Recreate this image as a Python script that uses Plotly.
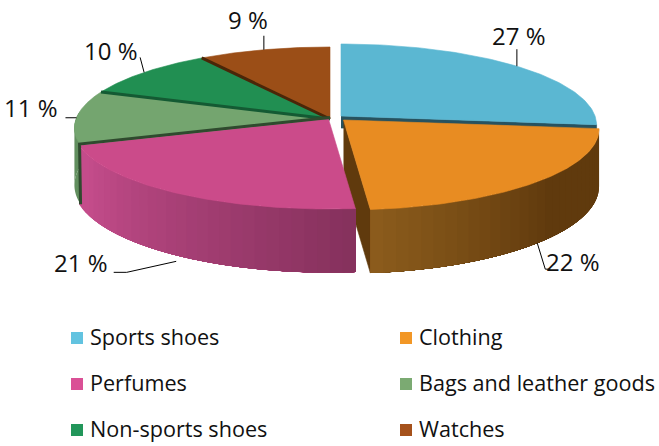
import numpy as np
import plotly.graph_objects as go

# ---- data ----
categories = ["Sports shoes", "Clothing", "Perfumes", "Bags and leather goods", "Non-sports shoes", "Watches"]
shares = [26.7, 21.8, 21.3, 10.9, 10.0, 9.3]
top_colors = ["#5BB7D2", "#E88C22", "#CB4B8A", "#74A56F", "#218F52", "#9B4E17"]
legend_colors = ["#62C3E0", "#F29726", "#DA5096", "#7BAA72", "#22965A", "#A5511B"]
edge_colors = ["#27525F", "#603A0D", "#8A335F", "#2F4A2E", "#145A33", "#4A2608"]

# ---- projection of the tilted disc (pixel plot area) ----
A, B, K, DEPTH = 254.0, 80.0, 0.111, 56.5
LEFT_APEX = (330.0, 119.0)
apexes = [(341.0, 116.0), (343.5, 120.0), (328.5, 119.0), LEFT_APEX, LEFT_APEX, LEFT_APEX]


def scale(t):
    return 1.0 / (1.0 + K * np.cos(t))


def rim(t, apex):
    s = scale(t)
    return apex[0] + A * np.sin(t) * s, apex[1] - B * np.cos(t) * s


def drop(t):
    return DEPTH * scale(t)


def mix(c1, c2, f):
    a = [int(c1[i:i + 2], 16) for i in (1, 3, 5)]
    b = [int(c2[i:i + 2], 16) for i in (1, 3, 5)]
    return "#%02x%02x%02x" % tuple(int(round(a[i] + (b[i] - a[i]) * f)) for i in range(3))


cum = np.cumsum([0] + shares)
total = cum[-1]
starts = cum[:-1] / total * 2 * np.pi
ends = cum[1:] / total * 2 * np.pi
mids = (starts + ends) / 2

fig = go.Figure()


def poly(xs, ys, color, line=0.6):
    fig.add_trace(go.Scatter(x=list(xs), y=list(ys), mode="lines", fill="toself", fillcolor=color,
                             line=dict(color=color, width=line), hoverinfo="skip", showlegend=False))


def seg(xs, ys, color, width):
    fig.add_trace(go.Scatter(x=list(xs), y=list(ys), mode="lines", line=dict(color=color, width=width),
                             hoverinfo="skip", showlegend=False))


def top(i):
    t = np.linspace(starts[i], ends[i], 90)
    x, y = rim(t, apexes[i])
    poly(np.r_[apexes[i][0], x, apexes[i][0]], np.r_[apexes[i][1], y, apexes[i][1]], top_colors[i])


def wall(i, t0, t1, color_at, n=30):
    # Each band runs to the far end of the wall, so later bands paint over it with no seam
    t = np.linspace(t0, t1, n + 1)
    for j in range(n):
        tt = np.linspace(t[j], t1, 60)
        x, y = rim(tt, apexes[i])
        d = drop(tt)
        fig.add_trace(go.Scatter(x=list(np.r_[x, x[::-1]]), y=list(np.r_[y, (y + d)[::-1]]), mode="none",
                                 fill="toself", fillcolor=color_at((j + .5) / n),
                                 hoverinfo="skip", showlegend=False))


def wall_color_orange(f):  # f runs from the right end towards the front cut
    return mix("#603A0D", "#8C5C1C", max(0, (f - 0.45) / 0.55))


def wall_color_pink(f):  # f runs from the front cut towards the left end
    return mix("#85315C", "#C44C8B", min(1, f / 0.9))


# Bags wall first, behind the perfumes slice
wall(3, starts[3], starts[3] + 0.25 * (ends[3] - starts[3]) + 0.25, lambda f: "#628F5F", n=2)

# Back slices
for i in (5, 4, 3):
    top(i)
# Dark cut edges between the back slices
for i, w in ((5, 3), (4, 3)):
    x, y = rim(starts[i], apexes[i])
    seg([apexes[i][0], x], [apexes[i][1], y], edge_colors[i], w)

# Blue slice and its cut face under the orange one
x, y = rim(ends[0], apexes[0])
poly([apexes[0][0], x, x, apexes[0][0]], [apexes[0][1], y, y + 12, apexes[0][1] + 12], edge_colors[0])
top(0)

# Orange slice: cut face, wall, top
x, y = rim(ends[1], apexes[1])
dd = drop(ends[1])
ax, ay = apexes[1]
poly([ax, x, x, ax], [ay, y, y + dd, ay + dd - 1], edge_colors[1])
wall(1, starts[1], ends[1], wall_color_orange)
top(1)

# Perfumes slice: wall, top
wall(2, ends[2], starts[2], lambda f: wall_color_pink(1 - f))
top(2)

# Dark edge of the bags slice along the top and left of the perfumes slice
x, y = rim(starts[3], apexes[3])
seg([apexes[3][0], x - 1, x], [apexes[3][1] - 1.5, y - 1.5, y + drop(starts[3])], edge_colors[3], 3)

# Leader lines and labels, anchored on the rim at each slice's middle
label_offsets = [(2, -31), (36, 18), (-95.5, 7), (-45, -10), (-33, -22), (-16, -30)]
elbows = [[(0, -17)], [(8, 26), (13, 26)], [(-49.5, 17), (-62.5, 17)], [(-11, 0)], [(-4, -15)], [(0, -14)]]
starts_shift = [0, 0, 6, 0, 0, 0]
for i, t in enumerate(mids):
    px, py = rim(t, apexes[i])
    if np.cos(t) < 0 and i in (1, 2):
        py += drop(t)
    xs = [px] + [px + e[0] for e in elbows[i]]
    ys = [py + starts_shift[i]] + [py + e[1] for e in elbows[i]]
    seg(xs, ys, "#000000", 1)
    fig.add_annotation(x=px + label_offsets[i][0], y=py + label_offsets[i][1],
                       text=f"{round(shares[i])} %", showarrow=False, xanchor="center", yanchor="middle",
                       font=dict(family="Open Sans", size=24, color="#111111"))

# Legend
leg_x = [77, 406]
leg_y = [338, 384, 430]
for i, name in enumerate(categories):
    col, row = i % 2, i // 2
    fig.add_trace(go.Scatter(x=[leg_x[col]], y=[leg_y[row]], mode="markers",
                             marker=dict(symbol="square", size=12, color=legend_colors[i]),
                             hoverinfo="skip", showlegend=False))
    fig.add_annotation(x=leg_x[col] + 11, y=leg_y[row] - 2, text=name, showarrow=False, xanchor="left",
                       yanchor="middle", font=dict(family="Open Sans", size=21.6, color="#111111"))

fig.update_layout(width=659, height=446, margin=dict(l=0, r=0, t=0, b=0), autosize=False,
                  paper_bgcolor="white", plot_bgcolor="white", showlegend=False,
                  xaxis=dict(range=[0, 659], visible=False, fixedrange=True),
                  yaxis=dict(range=[446, 0], visible=False, fixedrange=True))
fig.write_html("out.html", config={"displayModeBar": False},
               post_script="document.body.style.margin='0';document.body.style.overflow='hidden';")
